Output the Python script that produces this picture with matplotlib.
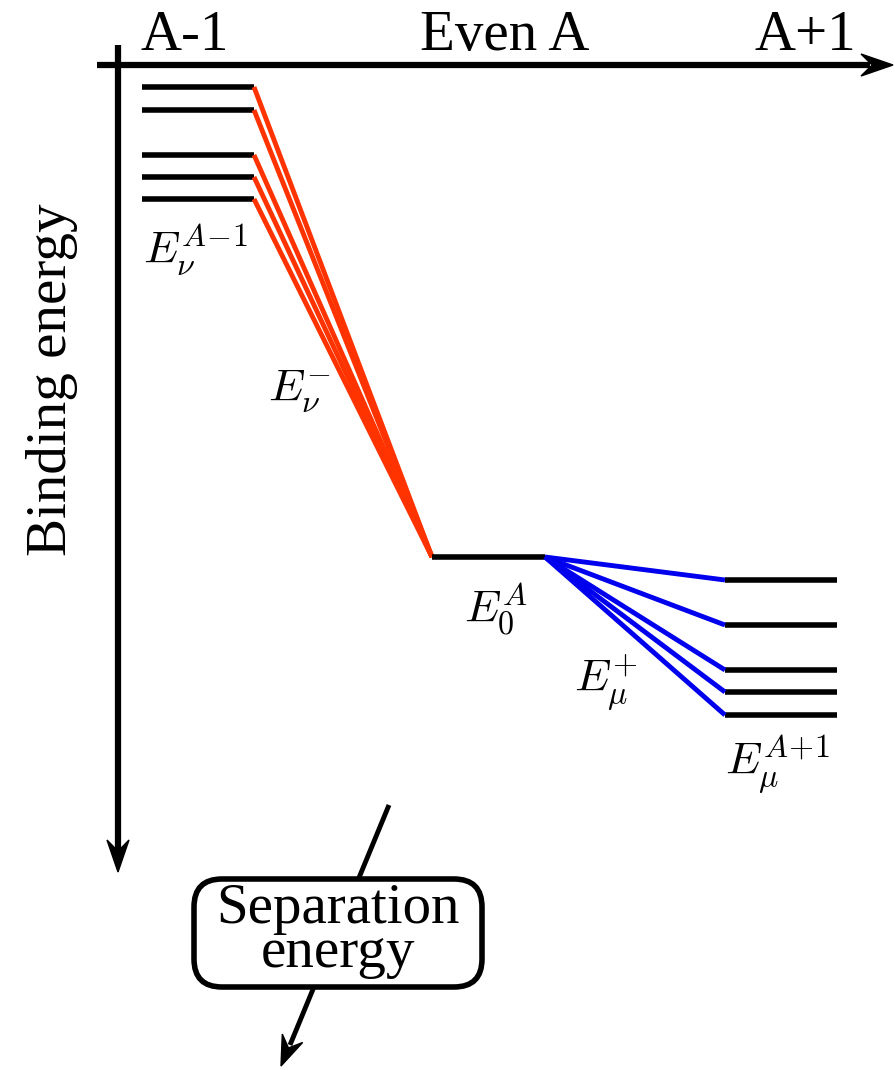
import matplotlib
matplotlib.use("Agg")
import matplotlib.pyplot as plt
from matplotlib.patches import FancyBboxPatch, Polygon

plt.rcParams['mathtext.fontset'] = 'cm'
plt.rcParams['font.family'] = ['Liberation Serif', 'DejaVu Serif']

# Data (pixel-like energy coordinates, downward = more bound)
column_labels = ["A-1", "Even A", "A+1"]
levels_minus = [87, 110, 155, 177, 199]      # A-1 levels
level_even = 557                              # even A ground state
levels_plus = [580, 625, 670, 692, 715]       # A+1 levels

x_minus = (142, 254)
x_even = (432, 545)
x_plus = (725, 837)

W, H = 894, 1070
fig = plt.figure(figsize=(W / 100, H / 100), dpi=100)
ax = fig.add_axes([0, 0, 1, 1])
ax.set_xlim(0, W)
ax.set_ylim(H, 0)
ax.axis('off')


def stealth(tip, direction, length=30, half_width=11, inset=0.35, color='black'):
    import numpy as np
    d = np.array(direction, float)
    d /= np.hypot(*d)
    n = np.array([-d[1], d[0]])
    tip = np.array(tip, float)
    base = tip - d * length
    pts = [tip, base + n * half_width, tip - d * length * (1 - inset), base - n * half_width]
    ax.add_patch(Polygon(pts, closed=True, fc=color, ec=color, lw=1, zorder=7))


lw_level = 4
# axes
ax.plot([97, 870], [65, 65], color='black', lw=4.5, solid_capstyle='butt')
stealth((893, 65), (1, 0), length=32, half_width=11)
ax.plot([118, 118], [45, 850], color='black', lw=4.5, solid_capstyle='butt')
stealth((118, 872), (0, 1), length=32, half_width=11)

# levels and transitions
for y in levels_minus:
    ax.plot(x_minus, [y, y], color='black', lw=lw_level, solid_capstyle='butt')
    ax.plot([x_minus[1], x_even[0]], [y, level_even], color='#ff3300', lw=3.5, solid_capstyle='butt')
ax.plot(x_even, [level_even, level_even], color='black', lw=lw_level, solid_capstyle='butt')
for y in levels_plus:
    ax.plot(x_plus, [y, y], color='black', lw=lw_level, solid_capstyle='butt')
    ax.plot([x_even[1], x_plus[0]], [level_even, y], color='#0000ee', lw=3.5, solid_capstyle='butt')

# column labels
for lab, x in zip(column_labels, [185, 505, 805]):
    ax.text(x, 36, lab, ha='center', va='center', fontsize=41)

ax.text(52, 380, "Binding energy", rotation=90, ha='center', va='center', fontsize=41)

mfs = 33
ax.text(196, 250, r"$E_\nu^{A\!-\!1}$", ha='center', va='center', fontsize=mfs)
ax.text(300, 392, r"$E_\nu^{-}$", ha='center', va='center', fontsize=mfs)
ax.text(496, 608, r"$E_0^{A}$", ha='center', va='center', fontsize=mfs)
ax.text(606, 683, r"$E_\mu^{+}$", ha='center', va='center', fontsize=mfs)
ax.text(778, 764, r"$E_\mu^{A\!+\!1}$", ha='center', va='center', fontsize=mfs)

# separation energy arrow
ax.plot([389, 290], [805, 1045], color='black', lw=3.5, solid_capstyle='butt')
stealth((281, 1066), (281 - 389, 1066 - 805), length=30, half_width=11)
box = FancyBboxPatch((194, 879), 288, 108, boxstyle="round,pad=0,rounding_size=28",
                     fc='white', ec='black', lw=4, zorder=5)
ax.add_patch(box)
ax.text(338, 931, "Separation\nenergy", ha='center', va='center', fontsize=41,
        linespacing=0.8, zorder=6)

fig.savefig("out.png", dpi=100)
